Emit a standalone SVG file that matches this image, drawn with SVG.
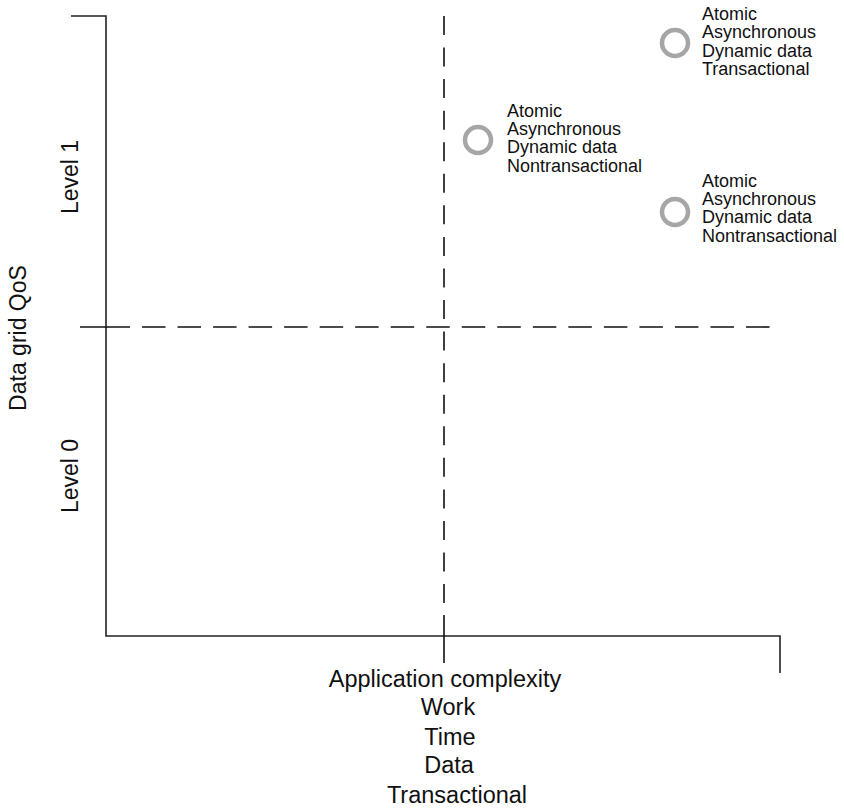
<svg xmlns="http://www.w3.org/2000/svg" width="844" height="810" viewBox="0 0 844 810">
<style>
.ax{stroke:#222;stroke-width:1.6;fill:none}
.dash{stroke:#111;stroke-width:1.6;fill:none}
.pt{fill:none;stroke:#a6a6a6;stroke-width:4.5}
.sm{font-family:"Liberation Sans",Arial,sans-serif;font-size:18px;fill:#111}
.lg{font-family:"Liberation Sans",Arial,sans-serif;font-size:23px;fill:#111}
</style>
<rect width="844" height="810" fill="#fff"/>
<g id="connectors">
<polyline class="ax" points="71,16 106,16 106,636 780,636 780,673"/>
<line class="dash" x1="80" y1="327" x2="130" y2="327"/>
<line class="dash" x1="142" y1="327" x2="770" y2="327" stroke-dasharray="23.5 12.03"/>
<line class="dash" x1="444" y1="16" x2="444" y2="603" stroke-dasharray="19 12.56"/>
<line class="dash" x1="444" y1="615" x2="444" y2="663"/>
</g>
<g id="axis-y-labels">
<text class="lg" transform="translate(26,338) rotate(-90)" text-anchor="middle">Data grid QoS</text>
<text class="lg" transform="translate(78,177) rotate(-90)" text-anchor="middle">Level 1</text>
<text class="lg" transform="translate(78,476) rotate(-90)" text-anchor="middle">Level 0</text>
</g>
<g id="axis-x-labels" class="lg" style="font-size:23.5px">
<text x="445" y="687" text-anchor="middle">Application complexity</text>
<text x="448" y="715" text-anchor="middle">Work</text>
<text x="450" y="745" text-anchor="middle">Time</text>
<text x="449" y="773" text-anchor="middle">Data</text>
<text x="457" y="803" text-anchor="middle">Transactional</text>
</g>
<g id="node1">
<circle class="pt" cx="478" cy="140" r="13"/>
<text class="sm" x="507" y="117">Atomic</text>
<text class="sm" x="507" y="135">Asynchronous</text>
<text class="sm" x="507" y="153">Dynamic data</text>
<text class="sm" x="507" y="172">Nontransactional</text>
</g>
<g id="node2">
<circle class="pt" cx="675" cy="43" r="13"/>
<text class="sm" x="702" y="20">Atomic</text>
<text class="sm" x="702" y="38">Asynchronous</text>
<text class="sm" x="702" y="57">Dynamic data</text>
<text class="sm" x="702" y="75">Transactional</text>
</g>
<g id="node3">
<circle class="pt" cx="675" cy="212" r="13"/>
<text class="sm" x="702" y="187">Atomic</text>
<text class="sm" x="702" y="205">Asynchronous</text>
<text class="sm" x="702" y="223">Dynamic data</text>
<text class="sm" x="702" y="242">Nontransactional</text>
</g>
</svg>
